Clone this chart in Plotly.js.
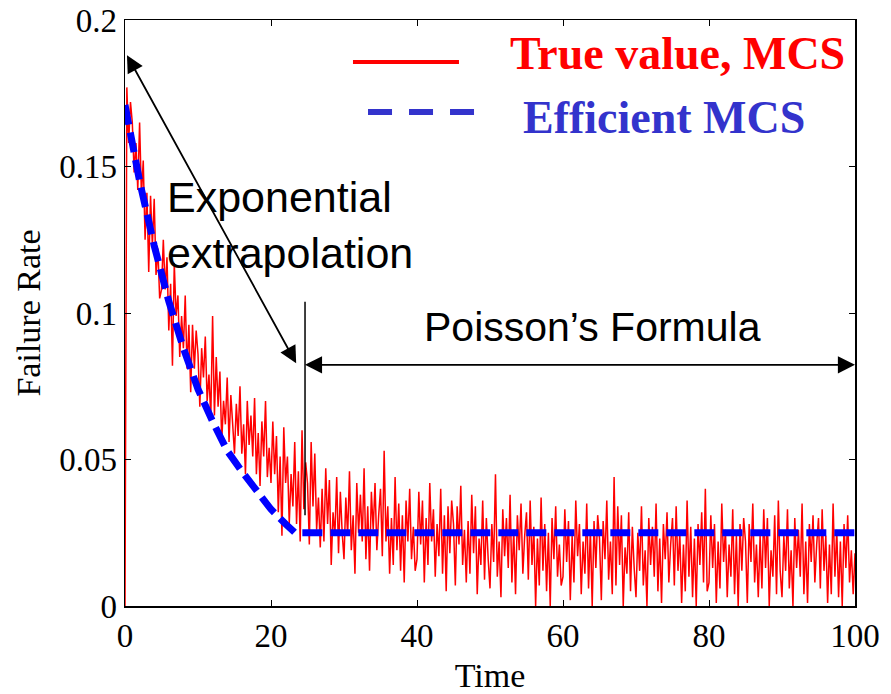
<!DOCTYPE html>
<html>
<head>
<meta charset="utf-8">
<script src="https://cdn.plot.ly/plotly-3.0.1.min.js"></script>
<style>html,body{margin:0;padding:0;background:#fff;}#chart{width:891px;height:694px;}</style>
</head>
<body>
<div id="chart"></div>
<script>
// ---- data ----
var timeStart = 0;
var timeStep = 0.25;
// "True value, MCS" failure rate, one value every 0.25 time units from 0 to 100
var trueRate = [
0.000,0.177,0.158,0.172,0.165,0.148,0.158,0.142,0.165,0.140,0.152,0.125,0.141,0.114,0.140,0.123,0.139,0.113,0.122,0.105,
0.108,0.125,0.108,0.119,0.094,0.110,0.082,0.117,0.099,0.106,0.085,0.099,0.088,0.106,0.081,0.096,0.073,0.096,0.081,0.094,
0.086,0.068,0.088,0.078,0.092,0.070,0.079,0.064,0.099,0.065,0.085,0.068,0.080,0.056,0.070,0.062,0.078,0.056,0.072,0.060,
0.052,0.069,0.058,0.075,0.052,0.062,0.045,0.070,0.055,0.065,0.051,0.071,0.045,0.059,0.041,0.063,0.051,0.070,0.044,0.054,
0.042,0.063,0.045,0.058,0.032,0.051,0.024,0.061,0.042,0.051,0.028,0.045,0.034,0.056,0.028,0.046,0.022,0.060,0.033,0.049,
0.042,0.021,0.056,0.034,0.052,0.026,0.037,0.020,0.040,0.022,0.047,0.028,0.043,0.014,0.032,0.024,0.044,0.018,0.039,0.025,
0.016,0.037,0.024,0.046,0.019,0.031,0.011,0.042,0.025,0.038,0.022,0.047,0.016,0.034,0.012,0.039,0.026,0.042,0.019,0.031,
0.040,0.017,0.053,0.022,0.034,0.011,0.030,0.014,0.044,0.019,0.035,0.012,0.031,0.008,0.036,0.022,0.040,0.016,0.027,0.012,
0.016,0.039,0.021,0.036,0.008,0.030,0.014,0.042,0.022,0.033,0.010,0.028,0.017,0.040,0.011,0.031,0.005,0.034,0.018,0.036,
0.028,0.007,0.034,0.021,0.041,0.014,0.026,0.008,0.029,0.011,0.038,0.018,0.034,0.004,0.023,0.014,0.036,0.009,0.030,0.016,
0.006,0.028,0.015,0.045,0.010,0.022,0.003,0.033,0.017,0.030,0.013,0.038,0.008,0.026,0.004,0.031,0.019,0.035,0.011,0.024,
0.032,0.009,0.036,0.014,0.027,0.000,0.023,0.007,0.037,0.012,0.028,0.005,0.025,0.000,0.030,0.016,0.034,0.010,0.021,0.007,
0.010,0.033,0.015,0.029,0.002,0.024,0.008,0.036,0.017,0.028,0.004,0.022,0.011,0.035,0.006,0.026,0.000,0.029,0.013,0.031,
0.023,0.002,0.029,0.016,0.036,0.009,0.022,0.004,0.044,0.007,0.034,0.014,0.031,0.000,0.020,0.011,0.032,0.005,0.027,0.013,
0.003,0.025,0.012,0.034,0.007,0.019,0.000,0.030,0.014,0.027,0.010,0.035,0.005,0.023,0.001,0.028,0.016,0.032,0.008,0.021,
0.030,0.007,0.034,0.012,0.025,0.001,0.021,0.005,0.036,0.010,0.027,0.003,0.023,0.000,0.028,0.014,0.032,0.008,0.040,0.005,
0.008,0.031,0.013,0.028,0.001,0.022,0.006,0.035,0.015,0.026,0.003,0.021,0.010,0.033,0.004,0.024,0.000,0.028,0.012,0.030,
0.022,0.001,0.028,0.015,0.035,0.008,0.021,0.003,0.024,0.006,0.033,0.013,0.030,0.000,0.019,0.010,0.031,0.004,0.036,0.012,
0.003,0.024,0.012,0.033,0.006,0.019,0.000,0.030,0.013,0.026,0.010,0.035,0.004,0.022,0.001,0.028,0.015,0.031,0.008,0.021,
0.030,0.006,0.033,0.012,0.024,0.001,0.021,0.004,0.035,0.010,0.026,0.003,0.022,0.000,0.028,0.013,0.031,0.008,0.019,0.004,
0.018
];
// "Efficient MCS": exponential extrapolation, then Poisson's formula (flat)
var effTime = [0, 2, 4, 6, 8, 10, 12, 14, 16, 18, 20, 22, 23.3, 100];
var effRate = [0.171, 0.145, 0.123, 0.104, 0.088, 0.074, 0.063, 0.053, 0.046, 0.039, 0.033, 0.028, 0.025, 0.025];

var xTicks = [0, 20, 40, 60, 80, 100];
var yTicks = [0, 0.05, 0.1, 0.15, 0.2];
var yTickText = ['0', '0.05', '0.1', '0.15', '0.2'];

var legendNames = ['True value, MCS', 'Efficient MCS'];
var noteExp = 'Exponential<br>extrapolation';
var notePoisson = 'Poisson\u2019s Formula';
// annotation anchor points (data units)
var expArrowTop = [0.27, 0.188];
var expArrowBottom = [23.56, 0.0823];
var poissonArrowLeft = [24.45, 0.0823];
var poissonArrowRight = [100, 0.0823];
var splitLine = [24.66, 0.031, 0.1038];

// ---- drawing ----
var serif = '"Liberation Serif", "Times New Roman", Times, serif';
var sans = '"Liberation Sans", Arial, Helvetica, sans-serif';

var traces = [
  {
    type: 'scatter', mode: 'lines', name: legendNames[0],
    x0: timeStart, dx: timeStep, y: trueRate,
    line: {color: '#ff0000', width: 1.5},
    hoverinfo: 'skip', showlegend: false
  },
  {
    type: 'scatter', mode: 'lines', name: legendNames[1],
    x: effTime, y: effRate,
    line: {color: '#0000ff', width: 7, dash: '20px,8px'},
    hoverinfo: 'skip', showlegend: false
  }
];

function arrow(head, tail) {
  return {
    x: head[0], y: head[1], xref: 'x', yref: 'y',
    ax: tail[0], ay: tail[1], axref: 'x', ayref: 'y',
    text: '', showarrow: true, arrowside: 'end+start',
    arrowhead: 2, arrowsize: 1.9, arrowwidth: 1.8, arrowcolor: '#000',
    standoff: 0, startstandoff: 0
  };
}

var layout = {
  width: 891, height: 694,
  margin: {l: 125, r: 36, t: 20, b: 88},
  paper_bgcolor: '#fff', plot_bgcolor: '#fff',
  showlegend: false,
  xaxis: {
    range: [0, 100], tickvals: xTicks, ticktext: xTicks.map(String),
    ticks: 'inside', ticklen: 6, tickwidth: 1, tickcolor: '#000',
    showline: true, linecolor: '#000', linewidth: 1.5, mirror: 'ticks',
    showgrid: false, zeroline: false,
    tickfont: {family: serif, size: 33, color: '#000'},
    title: {text: 'Time', font: {family: serif, size: 34, color: '#000'}, standoff: 13}
  },
  yaxis: {
    range: [0, 0.2], tickvals: yTicks, ticktext: yTickText,
    ticks: 'inside', ticklen: 6, tickwidth: 1, tickcolor: '#000',
    showline: true, linecolor: '#000', linewidth: 1.5, mirror: 'ticks',
    showgrid: false, zeroline: false,
    tickfont: {family: serif, size: 33, color: '#000'},
    title: {text: 'Failure Rate', font: {family: serif, size: 34, color: '#000'}, standoff: 8}
  },
  shapes: [
    {type: 'line', xref: 'paper', yref: 'paper', x0: 0.3123, x1: 0.4575, y0: 0.9283, y1: 0.9283,
     line: {color: '#ff0000', width: 4}},
    {type: 'line', xref: 'paper', yref: 'paper', x0: 0.3329, x1: 0.4808, y0: 0.843, y1: 0.843,
     line: {color: '#3333cc', width: 6, dash: '24px,17px'}},
    {type: 'line', xref: 'x', yref: 'y', x0: splitLine[0], x1: splitLine[0], y0: splitLine[1], y1: splitLine[2],
     line: {color: '#000', width: 1.5}}
  ],
  annotations: [
    {xref: 'paper', yref: 'paper', x: 0.7562, y: 0.942, xanchor: 'center', yanchor: 'middle',
     text: '<b>' + legendNames[0] + '</b>', showarrow: false,
     font: {family: serif, size: 46, color: '#ff0000'}},
    {xref: 'paper', yref: 'paper', x: 0.739, y: 0.8328, xanchor: 'center', yanchor: 'middle',
     text: '<b>' + legendNames[1] + '</b>', showarrow: false,
     font: {family: serif, size: 46, color: '#3333cc'}},
    {xref: 'paper', yref: 'paper', x: 0.0548, y: 0.742, xanchor: 'left', yanchor: 'top', align: 'left',
     text: noteExp, showarrow: false,
     font: {family: sans, size: 43, color: '#000'}},
    {xref: 'paper', yref: 'paper', x: 0.6404, y: 0.476, xanchor: 'center', yanchor: 'middle',
     text: notePoisson, showarrow: false,
     font: {family: sans, size: 41, color: '#000'}},
    arrow(expArrowTop, expArrowBottom),
    arrow(poissonArrowRight, poissonArrowLeft)
  ]
};

Plotly.newPlot('chart', traces, layout, {staticPlot: true, displayModeBar: false});
</script>
</body>
</html>
